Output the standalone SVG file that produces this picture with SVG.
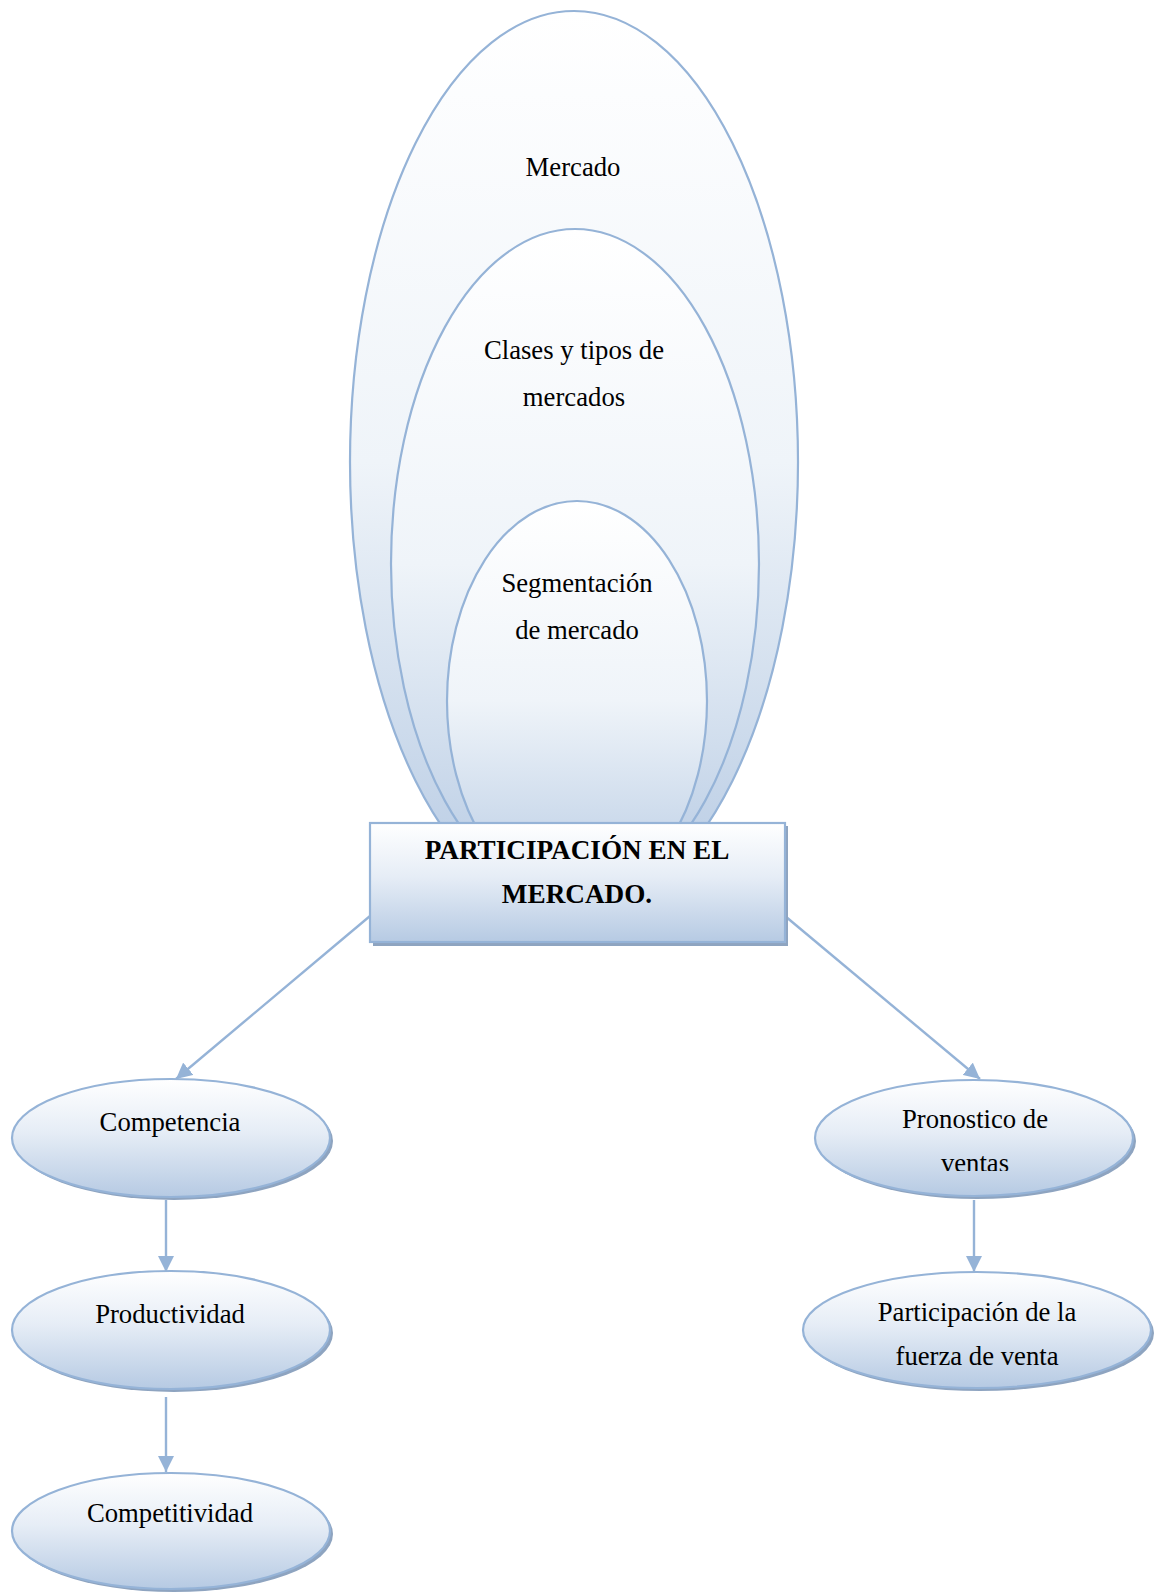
<svg xmlns="http://www.w3.org/2000/svg" width="1159" height="1593" viewBox="0 0 1159 1593">
<style>
text{font-family:"Liberation Serif","Times New Roman",serif;font-size:26.7px;fill:#000;text-anchor:middle}
.b{font-weight:bold;font-size:27.2px}
.big{fill:url(#gBig);stroke:#95b3d7;stroke-width:2.2}
.nd{fill:url(#gNode);stroke:#95b3d7;stroke-width:2.2}
.sh{fill:#8ea4c0}
.cn{stroke:#95b3d7;stroke-width:2.4;fill:none;marker-end:url(#ah)}
</style>
<defs>
<linearGradient id="gBig" x1="0" y1="0" x2="0" y2="1">
<stop offset="0" stop-color="#ffffff"/>
<stop offset="0.5" stop-color="#eff4f9"/>
<stop offset="1" stop-color="#b6cae3"/>
</linearGradient>
<linearGradient id="gNode" x1="0" y1="0" x2="0" y2="1">
<stop offset="0" stop-color="#ffffff"/>
<stop offset="0.45" stop-color="#e6edf6"/>
<stop offset="1" stop-color="#b6cae3"/>
</linearGradient>
<marker id="ah" viewBox="0 0 10 10" refX="10" refY="5" markerWidth="16" markerHeight="16" markerUnits="userSpaceOnUse" orient="auto">
<path d="M0,0 L10,5 L0,10 z" fill="#95b3d7"/>
</marker>
<clipPath id="clipV"><rect x="800" y="1080" width="350" height="91"/></clipPath>
</defs>

<g id="mercado">
<ellipse class="big" cx="574" cy="462" rx="224" ry="451"/>
<text x="573" y="176">Mercado</text>
</g>
<g id="clases">
<ellipse class="big" cx="575" cy="564" rx="184" ry="335"/>
<text x="574" y="359">Clases y tipos de</text>
<text x="574" y="406">mercados</text>
</g>
<g id="segmentacion">
<ellipse class="big" cx="577" cy="701" rx="130" ry="200"/>
<text x="577" y="592">Segmentación</text>
<text x="577" y="639">de mercado</text>
</g>

<g id="connectors">
<line class="cn" x1="370" y1="916" x2="176" y2="1079"/>
<line class="cn" x1="785" y1="916" x2="980" y2="1079"/>
<line class="cn" x1="166" y1="1200" x2="166" y2="1272"/>
<line class="cn" x1="166" y1="1397" x2="166" y2="1472"/>
<line class="cn" x1="974" y1="1200" x2="974" y2="1272"/>
</g>

<g id="participacion">
<rect class="sh" x="373" y="826" width="415" height="120"/>
<rect x="370" y="823" width="415" height="119" fill="url(#gNode)" stroke="#95b3d7" stroke-width="2.2"/>
<text class="b" x="577" y="859">PARTICIPACIÓN EN EL</text>
<text class="b" x="577" y="903">MERCADO.</text>
</g>

<g id="competencia">
<ellipse class="sh" cx="174" cy="1141" rx="159" ry="59"/>
<ellipse class="nd" cx="171" cy="1138" rx="159" ry="59"/>
<text x="170" y="1131">Competencia</text>
</g>
<g id="productividad">
<ellipse class="sh" cx="174" cy="1333" rx="159" ry="59"/>
<ellipse class="nd" cx="171" cy="1330" rx="159" ry="59"/>
<text x="170" y="1323">Productividad</text>
</g>
<g id="competitividad">
<ellipse class="sh" cx="174" cy="1534" rx="159" ry="58"/>
<ellipse class="nd" cx="171" cy="1531" rx="159" ry="58"/>
<text x="170" y="1522">Competitividad</text>
</g>
<g id="pronostico">
<ellipse class="sh" cx="977" cy="1141" rx="159" ry="58"/>
<ellipse class="nd" cx="974" cy="1138" rx="159" ry="58"/>
<text x="975" y="1128">Pronostico de</text>
<text x="975" y="1172" clip-path="url(#clipV)">ventas</text>
</g>
<g id="fuerza">
<ellipse class="sh" cx="980" cy="1333" rx="174" ry="58"/>
<ellipse class="nd" cx="977" cy="1330" rx="174" ry="58"/>
<text x="977" y="1321">Participación de la</text>
<text x="977" y="1365">fuerza de venta</text>
</g>
</svg>
